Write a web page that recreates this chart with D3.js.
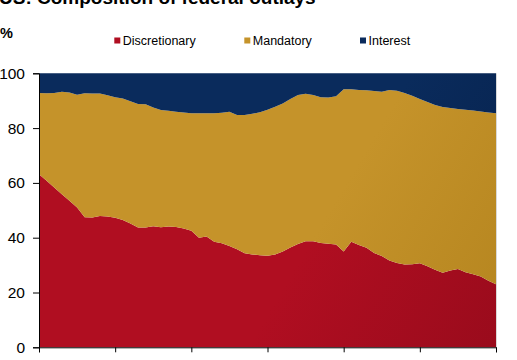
<!DOCTYPE html>
<html>
<head>
<meta charset="utf-8">
<script src="https://cdn.jsdelivr.net/npm/d3@7/dist/d3.min.js"></script>
<style>
  html, body { margin: 0; padding: 0; background: #fff; }
  svg { display: block; }
  text { font-family: "Liberation Sans", Arial, sans-serif; }
</style>
</head>
<body>
<svg id="chart" width="517" height="360"></svg>
<script>
// ---- Data (shares of federal outlays, %) ----
const years = d3.range(1969, 2030);
const discretionary = [63.2,60.8,58.3,55.9,53.5,51.0,47.5,47.4,47.9,47.7,47.3,46.5,45.2,43.7,43.7,44.2,43.8,44.1,43.9,43.4,
  42.5,40.0,40.4,38.5,38.0,37.0,35.8,34.3,33.9,33.6,33.4,33.9,35.0,36.4,37.7,38.7,38.7,38.1,37.8,37.5,
  35.0,38.5,37.3,36.3,34.4,33.3,31.7,30.8,30.2,30.3,30.7,29.6,28.3,27.2,28.0,28.6,27.4,26.7,25.8,24.3,23.0];
const mandatory = [29.6,31.9,34.5,37.4,39.5,41.2,45.2,45.2,44.7,44.3,44.0,44.3,44.6,45.1,45.0,43.3,42.8,42.2,42.1,42.3,
  42.9,45.4,45.0,46.9,47.6,49.0,49.0,50.5,51.3,52.2,53.3,53.9,54.0,54.2,54.4,53.8,53.4,53.2,53.4,54.1,
  59.2,55.7,56.6,57.5,59.1,60.0,62.2,62.8,62.6,61.5,59.9,59.9,60.1,60.5,59.3,58.4,59.3,59.7,60.3,61.4,62.4];
const interest = [7.2,7.3,7.2,6.7,7.0,7.8,7.3,7.4,7.4,8.0,8.7,9.2,10.2,11.2,11.3,12.5,13.4,13.7,14.0,14.3,
  14.6,14.6,14.6,14.6,14.4,14.0,15.2,15.2,14.8,14.2,13.3,12.2,11.0,9.4,7.9,7.5,7.9,8.7,8.8,8.4,
  5.8,5.8,6.1,6.2,6.5,6.7,6.1,6.4,7.2,8.2,9.4,10.5,11.6,12.3,12.7,13.0,13.3,13.6,13.9,14.3,14.6];
const seriesNames = ["Discretionary", "Mandatory", "Interest"];
const seriesColors = ["#b00e21", "#c5932a", "#0a2b5c"];
const seriesDark = ["#9a0b1c", "#b5851f", "#06214b"];
const yTicks = [0, 20, 40, 60, 80, 100];
const xTicks = [1969, 1979, 1989, 1999, 2009, 2019, 2029];
const title = "US: Composition of federal outlays";
const unitLabel = "%";

// ---- Layout ----
const svg = d3.select("#chart");
const plot = { left: 39, right: 496, top: 73.3, bottom: 347.3 };

const x = d3.scaleLinear().domain([1969, 2029]).range([plot.left, plot.right]);
const y = d3.scaleLinear().domain([0, 100]).range([plot.bottom, plot.top]);

const table = years.map((yr, i) => ({
  year: yr,
  Discretionary: discretionary[i],
  Mandatory: mandatory[i],
  Interest: interest[i]
}));
const stack = d3.stack().keys(seriesNames);
const layers = stack(table);

// gradients
const defs = svg.append("defs");
seriesNames.forEach((name, i) => {
  const g = defs.append("linearGradient")
    .attr("id", "grad" + i)
    .attr("gradientUnits", "userSpaceOnUse")
    .attr("x1", plot.left).attr("y1", plot.top)
    .attr("x2", plot.right).attr("y2", plot.bottom);
  g.append("stop").attr("offset", "0%").attr("stop-color", seriesColors[i]);
  g.append("stop").attr("offset", "60%").attr("stop-color", seriesColors[i]);
  g.append("stop").attr("offset", "100%").attr("stop-color", seriesDark[i]);
});

const area = d3.area()
  .x(d => x(d.data.year))
  .y0(d => y(d[0]))
  .y1(d => y(d[1]));

svg.append("g").selectAll("path")
  .data(layers)
  .join("path")
  .attr("d", area)
  .attr("fill", (d, i) => "url(#grad" + i + ")");

// right border
svg.append("line")
  .attr("x1", plot.right + 0.5).attr("x2", plot.right + 0.5)
  .attr("y1", plot.top).attr("y2", plot.bottom)
  .attr("stroke", "#d8d8d8").attr("stroke-width", 1);

// Y axis
const yAxis = svg.append("g")
  .attr("transform", `translate(${plot.left},0)`)
  .call(d3.axisLeft(y).tickValues(yTicks).tickSize(6).tickPadding(8).tickFormat(d3.format("d")));
yAxis.select(".domain").attr("stroke", "#000");
yAxis.selectAll(".tick line").attr("stroke", "#000");
yAxis.selectAll("text").attr("font-size", 15.5).attr("fill", "#000")
  .attr("font-family", "'Liberation Sans', Arial, sans-serif");

// X axis (labels mostly cut off by the bottom edge, as in the reference)
const xAxis = svg.append("g")
  .attr("transform", `translate(0,${plot.bottom})`)
  .call(d3.axisBottom(x).tickValues(xTicks).tickSize(5).tickPadding(9).tickFormat(d3.format("d")));
xAxis.select(".domain").attr("stroke", "#000");
xAxis.selectAll(".tick line").attr("stroke", "#000");
xAxis.selectAll("text").attr("font-size", 15).attr("fill", "#000")
  .attr("font-family", "'Liberation Sans', Arial, sans-serif");

// Title (partly cut off at top)
svg.append("text")
  .attr("x", -1).attr("y", 4)
  .attr("font-size", 19).attr("font-weight", "bold").attr("fill", "#000")
  .text(title);

// unit label
svg.append("text")
  .attr("x", 0).attr("y", 38)
  .attr("font-size", 14.5).attr("font-weight", "bold").attr("fill", "#000")
  .text(unitLabel);

// Legend
const legendX = [114.3, 244.3, 360];
const legend = svg.append("g");
seriesNames.forEach((name, i) => {
  legend.append("rect")
    .attr("x", legendX[i]).attr("y", 37.5)
    .attr("width", 6).attr("height", 6)
    .attr("fill", seriesColors[i]);
  legend.append("text")
    .attr("x", legendX[i] + 8.5).attr("y", 44.5)
    .attr("font-size", 12.5).attr("fill", "#000")
    .text(name);
});
</script>
</body>
</html>
